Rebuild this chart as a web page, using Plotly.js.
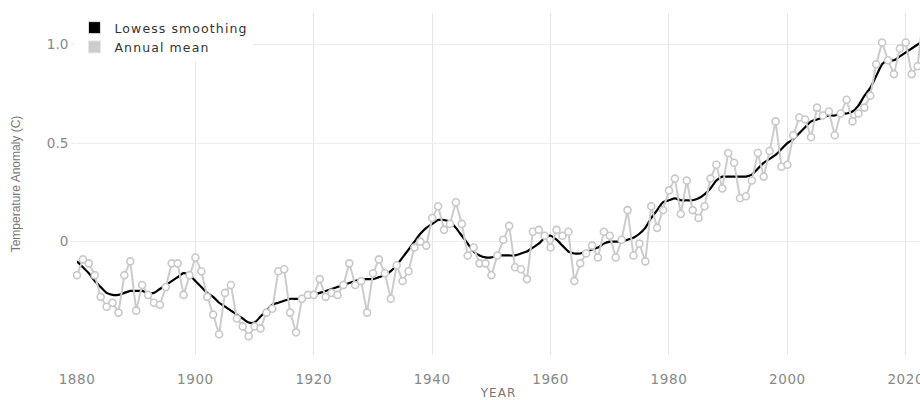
<!DOCTYPE html>
<html>
<head>
<meta charset="utf-8">
<script src="https://cdn.plot.ly/plotly-3.0.1.min.js"></script>
<style>
  html, body { margin: 0; padding: 0; background: #fff; overflow: hidden; }
  #chart { width: 920px; height: 400px; }
  .legendtext { letter-spacing: 1.1px; }
  .xtick text { letter-spacing: 0.6px; }
  .g-xtitle text { letter-spacing: 1px; }
</style>
</head>
<body>
<div id="chart"></div>
<script>
// Years 1880–2023
const years = [
  1880,1881,1882,1883,1884,1885,1886,1887,1888,1889,
  1890,1891,1892,1893,1894,1895,1896,1897,1898,1899,
  1900,1901,1902,1903,1904,1905,1906,1907,1908,1909,
  1910,1911,1912,1913,1914,1915,1916,1917,1918,1919,
  1920,1921,1922,1923,1924,1925,1926,1927,1928,1929,
  1930,1931,1932,1933,1934,1935,1936,1937,1938,1939,
  1940,1941,1942,1943,1944,1945,1946,1947,1948,1949,
  1950,1951,1952,1953,1954,1955,1956,1957,1958,1959,
  1960,1961,1962,1963,1964,1965,1966,1967,1968,1969,
  1970,1971,1972,1973,1974,1975,1976,1977,1978,1979,
  1980,1981,1982,1983,1984,1985,1986,1987,1988,1989,
  1990,1991,1992,1993,1994,1995,1996,1997,1998,1999,
  2000,2001,2002,2003,2004,2005,2006,2007,2008,2009,
  2010,2011,2012,2013,2014,2015,2016,2017,2018,2019,
  2020,2021,2022,2023
];

// Annual mean temperature anomaly (C)
const annualMean = [
  -0.17,-0.09,-0.11,-0.17,-0.28,-0.33,-0.31,-0.36,-0.17,-0.10,
  -0.35,-0.22,-0.27,-0.31,-0.32,-0.23,-0.11,-0.11,-0.27,-0.17,
  -0.08,-0.15,-0.28,-0.37,-0.47,-0.26,-0.22,-0.39,-0.43,-0.48,
  -0.43,-0.44,-0.36,-0.34,-0.15,-0.14,-0.36,-0.46,-0.29,-0.27,
  -0.27,-0.19,-0.28,-0.26,-0.27,-0.22,-0.11,-0.22,-0.20,-0.36,
  -0.16,-0.09,-0.16,-0.29,-0.12,-0.20,-0.15,-0.03,-0.00,-0.02,
   0.12, 0.18, 0.06, 0.09, 0.20, 0.09,-0.07,-0.03,-0.11,-0.11,
  -0.17,-0.07, 0.01, 0.08,-0.13,-0.14,-0.19, 0.05, 0.06, 0.03,
  -0.03, 0.06, 0.03, 0.05,-0.20,-0.11,-0.06,-0.02,-0.08, 0.05,
   0.03,-0.08, 0.01, 0.16,-0.07,-0.01,-0.10, 0.18, 0.07, 0.16,
   0.26, 0.32, 0.14, 0.31, 0.16, 0.12, 0.18, 0.32, 0.39, 0.27,
   0.45, 0.40, 0.22, 0.23, 0.31, 0.45, 0.33, 0.46, 0.61, 0.38,
   0.39, 0.54, 0.63, 0.62, 0.53, 0.68, 0.64, 0.66, 0.54, 0.65,
   0.72, 0.61, 0.65, 0.68, 0.74, 0.90, 1.01, 0.92, 0.85, 0.98,
   1.01, 0.85, 0.89, 1.17
];

// Lowess smoothing (C)
const lowess = [
  -0.10,-0.13,-0.16,-0.20,-0.23,-0.26,-0.27,-0.27,-0.26,-0.25,
  -0.25,-0.25,-0.26,-0.26,-0.24,-0.22,-0.20,-0.18,-0.16,-0.17,
  -0.20,-0.23,-0.26,-0.28,-0.31,-0.33,-0.35,-0.37,-0.39,-0.41,
  -0.41,-0.38,-0.35,-0.32,-0.31,-0.30,-0.29,-0.29,-0.29,-0.28,
  -0.27,-0.26,-0.25,-0.24,-0.23,-0.22,-0.21,-0.20,-0.19,-0.19,
  -0.19,-0.18,-0.17,-0.15,-0.12,-0.08,-0.04, 0.00, 0.04, 0.07,
   0.09, 0.11, 0.11, 0.10, 0.07, 0.03,-0.01,-0.05,-0.07,-0.08,
  -0.08,-0.07,-0.07,-0.07,-0.07,-0.06,-0.05,-0.03,-0.01, 0.02,
   0.03, 0.01,-0.02,-0.05,-0.06,-0.06,-0.05,-0.04,-0.03,-0.01,
   0.00, 0.00, 0.00, 0.01, 0.02, 0.04, 0.07, 0.12, 0.16, 0.20,
   0.21, 0.22, 0.21, 0.21, 0.21, 0.22, 0.24, 0.27, 0.31, 0.33,
   0.33, 0.33, 0.33, 0.33, 0.34, 0.37, 0.40, 0.42, 0.44, 0.47,
   0.50, 0.52, 0.55, 0.58, 0.61, 0.62, 0.63, 0.64, 0.64, 0.65,
   0.65, 0.66, 0.69, 0.74, 0.78, 0.84, 0.90, 0.92, 0.92, 0.94,
   0.96, 0.98, 1.00, 1.02
];

const yTickVals = [0, 0.5, 1.0];
const yTickText = ["0", "0.5", "1.0"];
const xTickVals = [1880, 1900, 1920, 1940, 1960, 1980, 2000, 2020];
const seriesNames = ["Lowess smoothing", "Annual mean"];

const WIDE = "'DejaVu Sans', 'Open Sans', sans-serif";
const NARROW = "'Liberation Sans', Arial, sans-serif";

const traces = [
  {
    x: years, y: lowess, type: "scatter", mode: "lines",
    line: { color: "#000000", width: 2.2, shape: "spline", smoothing: 0.6 },
    showlegend: false, hoverinfo: "x+y"
  },
  {
    x: years, y: annualMean, type: "scatter", mode: "lines+markers",
    line: { color: "#cccccc", width: 2 },
    marker: { symbol: "circle", size: 7, color: "#ffffff", line: { color: "#c8c8c8", width: 1.6 } },
    cliponaxis: false,
    showlegend: false, hoverinfo: "x+y"
  },
  // legend swatches
  {
    x: [null], y: [null], type: "scatter", mode: "markers", name: seriesNames[0],
    marker: { symbol: "square", size: 12, color: "#000000", line: { color: "#e0e0e0", width: 1 } }
  },
  {
    x: [null], y: [null], type: "scatter", mode: "markers", name: seriesNames[1],
    marker: { symbol: "square", size: 12, color: "#cccccc", line: { color: "#e6e6e6", width: 1 } }
  }
];

const layout = {
  width: 920, height: 400,
  margin: { l: 77, r: 0, t: 13, b: 45 },
  paper_bgcolor: "#ffffff", plot_bgcolor: "#ffffff",
  font: { family: WIDE, color: "#808080", size: 13 },
  showlegend: true,
  legend: {
    x: -0.003, y: 1.0, xanchor: "left", yanchor: "top",
    bgcolor: "#ffffff", borderwidth: 0,
    font: { family: WIDE, size: 12.5, color: "#333333" },
    itemwidth: 30, tracegroupgap: 0
  },
  xaxis: {
    range: [1880, 2022.4],
    tickvals: xTickVals,
    showgrid: true, gridcolor: "#e6e6e6", gridwidth: 1,
    zeroline: false, showline: false,
    ticks: "", ticklabelstandoff: 14, ticklabeloverflow: "allow",
    tickfont: { family: WIDE, size: 13.5, color: "#888888" },
    title: { text: "YEAR", font: { family: WIDE, size: 12, color: "#777777" }, standoff: 19 }
  },
  yaxis: {
    range: [-0.575, 1.16],
    tickvals: yTickVals, ticktext: yTickText,
    showgrid: true, gridcolor: "#ececec", gridwidth: 1,
    zeroline: false, showline: false,
    ticks: "outside", ticklen: 5, tickcolor: "#ececec",
    tickfont: { family: WIDE, size: 13.5, color: "#888888" },
    title: { text: "Temperature Anomaly (C)", font: { family: NARROW, size: 12, color: "#777777" }, standoff: 23 }
  }
};

Plotly.newPlot("chart", traces, layout, { displayModeBar: false, staticPlot: true });
</script>
</body>
</html>
